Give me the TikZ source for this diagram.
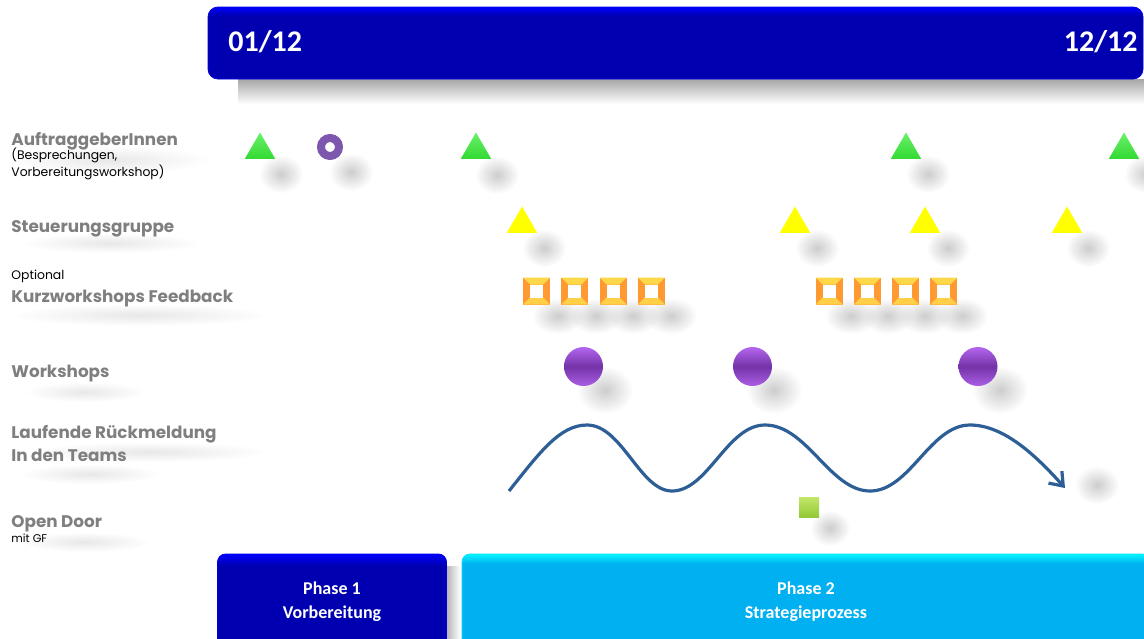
\documentclass[tikz,border=0pt]{standalone}
\usepackage{fontspec}
\setmainfont{Poppins}
\newfontfamily\barfont{Carlito}
\usepackage{tikz}
\usetikzlibrary{arrows.meta,positioning,shapes.geometric,fadings,backgrounds}
\definecolor{TLBlue}{HTML}{0000B0}
\definecolor{TLBright}{HTML}{0000FF}
\definecolor{TLCyan}{HTML}{00B0F0}
\definecolor{TLCyanEdge}{HTML}{00F6FF}
\definecolor{TLLabel}{HTML}{7F7F7F}
\definecolor{TLGreen}{HTML}{38EC38}
\definecolor{TLYellow}{HTML}{FFFF00}
\definecolor{TLRing}{HTML}{7D56AE}
\definecolor{TLViolet}{HTML}{7433A8}
\definecolor{TLVioletLight}{HTML}{B466EE}
\definecolor{TLOrange}{HTML}{FF9A33}
\definecolor{TLGold}{HTML}{FFD84A}
\definecolor{TLLime}{HTML}{93C835}
\definecolor{TLLimeLight}{HTML}{C2E66A}
\definecolor{TLWave}{HTML}{2E5E96}
\pgfdeclareverticalshading{tlbarshade}{100bp}{color(0bp)=(TLBlue); color(25bp)=(TLBlue); color(69bp)=(TLBlue); color(75bp)=(TLBright); color(100bp)=(TLBright)}
\pgfdeclareverticalshading{tlcyanshade}{100bp}{color(0bp)=(TLCyan); color(25bp)=(TLCyan); color(70bp)=(TLCyan); color(75bp)=(TLCyanEdge); color(100bp)=(TLCyanEdge)}
\tikzfading[name=tlspot, inner color=transparent!35, outer color=transparent!100]
\tikzset{
  tlbar/.style={rectangle, rounded corners=5pt, shading=tlbarshade,
    draw=TLBright!60!TLBlue, line width=0.4pt, inner sep=0pt},
  tlphase/.style={tlbar, rounded corners=4pt, align=center, text=white,
    font=\barfont\bfseries\fontsize{9}{12}\selectfont},
  tlphasetwo/.style={tlphase, shading=tlcyanshade, draw=TLCyanEdge!70!TLCyan},
  tldate/.style={font=\barfont\bfseries\fontsize{15}{18}\selectfont,
    text=white, inner sep=0pt},
  tlrow/.style={font=\bfseries\fontsize{8.4}{11.5}\selectfont, text=TLLabel,
    inner sep=0pt, anchor=base west, align=left},
  tlnote/.style={font=\fontsize{6.2}{6.6}\selectfont, text=black,
    inner sep=0pt, anchor=base west, align=left},
  greentri/.style={regular polygon, regular polygon sides=3, minimum size=17.5pt,
    inner sep=0pt, top color=TLGreen!75!white, bottom color=TLGreen!92!black},
  yellowtri/.style={greentri, top color=TLYellow, bottom color=TLYellow},
  tlring/.style={circle, minimum size=9pt, inner sep=0pt, draw=TLRing,
    line width=4pt, fill=white},
  kwbox/.style={rectangle, minimum size=13.5pt, inner sep=0pt, fill=TLOrange,
    path picture={
      \fill[TLGold] (path picture bounding box.north west)
        -- (path picture bounding box.north east) -- ++(-7,7) -- ++(-13,0) -- cycle;
      \fill[TLGold!85!TLOrange] (path picture bounding box.south west)
        -- (path picture bounding box.south east) -- ++(-7,-7) -- ++(-13,0) -- cycle;
      \fill[white] ([shift={(7,7)}]path picture bounding box.north west)
        rectangle ([shift={(-7,-7)}]path picture bounding box.south east);
    }},
  wsball/.style={circle, minimum size=19.5pt, inner sep=0pt,
    top color=TLVioletLight, bottom color=TLVioletLight!85!TLViolet,
    middle color=TLViolet},
  doorbox/.style={rectangle, minimum size=10pt, inner sep=0pt,
    top color=TLLimeLight, bottom color=TLLime},
  tlshadow/.style={fill=black!30, path fading=tlspot},
  tlsmudge/.style={fill=black!14, path fading=tlspot},
  tlwave/.style={draw=TLWave, line width=1.6pt,
    -{Straight Barb[length=6pt, width=9pt, line width=1.6pt]}}
}
\begin{document}
\begin{tikzpicture}[x=0.5pt, y=-0.5pt]
  \useasboundingbox (0,0) rectangle (1144,638);

  % shadows
  \fill[black!35, path fading=south] (238,79) rectangle (1144,104);
  \fill[black!30, path fading=east] (446,566) rectangle (460,640);
  \fill[tlsmudge] (110,160) ellipse (100 and 14);
  \fill[tlsmudge] (110,243) ellipse (90 and 10);
  \fill[tlsmudge] (140,315) ellipse (130 and 11);
  \fill[tlsmudge] (85,392) ellipse (60 and 10);
  \fill[tlsmudge] (150,452) ellipse (120 and 10);
  \fill[tlsmudge] (90,474) ellipse (70 and 10);
  \fill[tlsmudge] (85,542) ellipse (65 and 10);
  \fill[tlshadow] (281,174) ellipse (22 and 19);
  \fill[tlshadow] (351,172) ellipse (22 and 19);
  \fill[tlshadow] (497,175) ellipse (22 and 19);
  \fill[tlshadow] (928,174) ellipse (22 and 19);
  \fill[tlshadow] (1146,174) ellipse (22 and 19);
  \fill[tlshadow] (544,248) ellipse (22 and 19);
  \fill[tlshadow] (817,248) ellipse (22 and 19);
  \fill[tlshadow] (948,248) ellipse (22 and 19);
  \fill[tlshadow] (1088,248) ellipse (22 and 19);
  \fill[tlshadow] (558,316) ellipse (26 and 18);
  \fill[tlshadow] (596,316) ellipse (26 and 18);
  \fill[tlshadow] (633,316) ellipse (26 and 18);
  \fill[tlshadow] (671,316) ellipse (26 and 18);
  \fill[tlshadow] (851,316) ellipse (26 and 18);
  \fill[tlshadow] (888,316) ellipse (26 and 18);
  \fill[tlshadow] (925,316) ellipse (26 and 18);
  \fill[tlshadow] (962,316) ellipse (26 and 18);
  \fill[tlshadow] (605,390) ellipse (28 and 24);
  \fill[tlshadow] (774,390) ellipse (28 and 24);
  \fill[tlshadow] (1000,390) ellipse (28 and 24);
  \fill[tlshadow] (830,528) ellipse (20 and 18);
  \fill[tlshadow] (1097,485) ellipse (22 and 19);

  % time bar
  \node[tlbar, minimum width=467.5pt, minimum height=36pt] (timebar) at (675.5,43) {};
  \node[tldate, anchor=west] (start) at (228,42) {01/12};
  \node[tldate, anchor=east] (end) at (1138,42) {12/12};

  % row labels
  \node[tlrow] (auftrag) at (11,145) {AuftraggeberInnen};
  \node[tlnote] (auftragnote) at (11,176) {(Besprechungen,\\Vorbereitungsworkshop)};
  \node[tlrow] (steuer) at (11,232) {Steuerungsgruppe};
  \node[tlnote] (optional) at (11,279) {Optional};
  \node[tlrow] (kurz) at (11,302) {Kurzworkshops Feedback};
  \node[tlrow] (workshops) at (11,377) {Workshops};
  \node[tlrow] (feedback) at (11,461) {Laufende Rückmeldung\\In den Teams};
  \node[tlrow] (door) at (11,527) {Open Door};
  \node[tlnote, font=\fontsize{5.6}{6}\selectfont] (doornote) at (11,542) {mit GF};

  % AuftraggeberInnen
  \node[greentri] (ag1) at (260,150) {};
  \node[tlring] (agring) at (330,147) {};
  \node[greentri] (ag2) at (476,150) {};
  \node[greentri] (ag3) at (906,150) {};
  \node[greentri] (ag4) at (1124,150) {};

  % Steuerungsgruppe
  \node[yellowtri] (sg1) at (522,224) {};
  \node[yellowtri] (sg2) at (795,224) {};
  \node[yellowtri] (sg3) at (925,224) {};
  \node[yellowtri] (sg4) at (1067,224) {};

  % Kurzworkshops
  \node[kwbox] (kw1) at (536.5,291) {};
  \node[kwbox, right=5.25pt of kw1] (kw2) {};
  \node[kwbox, right=5.25pt of kw2] (kw3) {};
  \node[kwbox, right=5.25pt of kw3] (kw4) {};
  \node[kwbox] (kw5) at (829,291) {};
  \node[kwbox, right=5.25pt of kw5] (kw6) {};
  \node[kwbox, right=5.25pt of kw6] (kw7) {};
  \node[kwbox, right=5.25pt of kw7] (kw8) {};

  % Workshops
  \node[wsball] (ws1) at (583.5,366.5) {};
  \node[wsball] (ws2) at (752.5,366.5) {};
  \node[wsball] (ws3) at (978,366.5) {};

  % Laufende Rueckmeldung
  \coordinate (fbstart) at (509,491);
  \coordinate (fbend) at (1065,488);
  \draw[tlwave] (fbstart) .. controls (540,452) and (560,425) .. (587,425)
    .. controls (622,425) and (640,491) .. (672,491)
    .. controls (708,491) and (727,425) .. (765,425)
    .. controls (807,425) and (830,491) .. (870,491)
    .. controls (910,491) and (930,425) .. (970,425)
    .. controls (1005,425) and (1038,458) .. (fbend);

  % Open Door
  \node[doorbox] (od) at (809,507) {};

  % phases
  \node[tlphase, minimum width=114.5pt, minimum height=48pt] (phase1) at (332,602)
    {Phase 1\\Vorbereitung};
  \node[tlphasetwo, minimum width=344pt, minimum height=48pt] (phase2) at (806,602)
    {Phase 2\\Strategieprozess};
\end{tikzpicture}
\end{document}
